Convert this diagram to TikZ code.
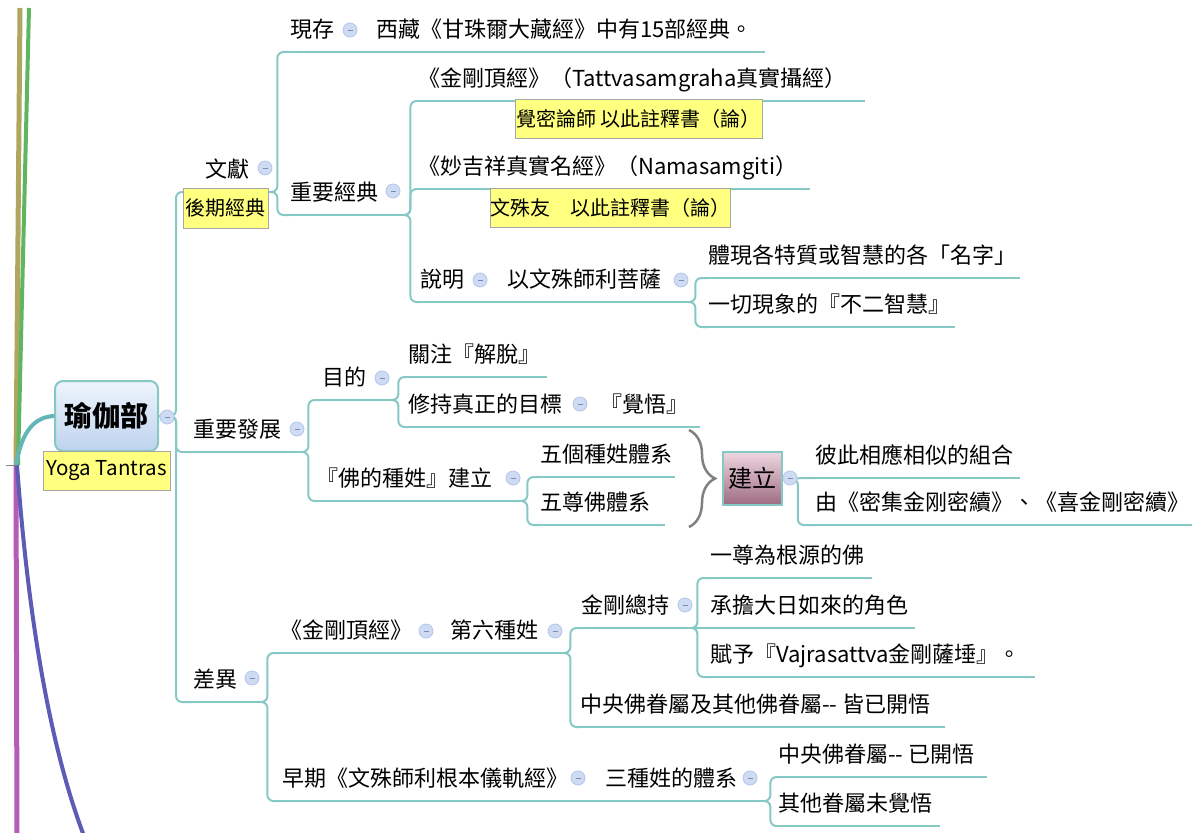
\documentclass[tikz,border=0pt]{standalone}
\usepackage{fontspec}
\setmainfont{Noto Sans CJK TC}
\usetikzlibrary{decorations.pathreplacing}
\definecolor{tealline}{RGB}{134,200,196}
\definecolor{rootTop}{RGB}{238,244,252}
\definecolor{rootBot}{RGB}{190,211,238}
\definecolor{buildTop}{RGB}{238,214,224}
\definecolor{buildBot}{RGB}{158,108,130}
\definecolor{noteYellow}{RGB}{255,255,128}
\definecolor{noteBorder}{RGB}{166,166,166}
\definecolor{cbFill}{RGB}{206,219,243}
\definecolor{cbDraw}{RGB}{176,198,236}
\definecolor{cbMinus}{RGB}{120,140,180}
\definecolor{tanL}{RGB}{176,166,96}
\definecolor{greenL}{RGB}{96,182,96}
\definecolor{magL}{RGB}{182,92,182}
\definecolor{purL}{RGB}{92,92,182}
\definecolor{rootLink}{RGB}{100,182,182}
\definecolor{braceGray}{RGB}{128,128,128}
\newcommand\mmbox[2]{\makebox[#1pt][l]{#2}}
\begin{document}
\begin{tikzpicture}[x=1pt,y=-1pt,
 topic/.style={anchor=south west, inner sep=0pt, text depth=14pt, font=\fontsize{22}{26}\selectfont},
 uline/.style={draw=tealline, line width=2pt},
 conn/.style={draw=tealline, line width=2pt, rounded corners=6pt},
 collapse/.style={circle, minimum size=14pt, inner sep=0pt, fill=cbFill, draw=cbDraw, line width=0.8pt,
   path picture={\draw[cbMinus,line width=0.9pt] ([xshift=-2.5pt]path picture bounding box.center) -- ([xshift=2.5pt]path picture bounding box.center);}},
 note/.style={draw=noteBorder, fill=noteYellow, line width=1pt, inner sep=0pt, font=\fontsize{20}{23}\selectfont},
]
\useasboundingbox (0,0) rectangle (1198,832);

% left branches of the outer map
\coordinate (hub) at (16,465);
\coordinate (tanTop) at (20,8);
\coordinate (greenTop) at (29,8);
\coordinate (magBot) at (17,840);
\coordinate (purBot) at (84,836);
\coordinate (tick) at (6,465);
\draw[tanL, line width=5pt] (tanTop) -- (hub);
\draw[greenL, line width=4pt] (greenTop) -- ([xshift=2pt]hub);
\draw[magL, line width=5pt] (hub) -- (magBot);
\draw[purL, line width=4pt] ([xshift=1pt]hub) .. controls (24,560) and (40,720) .. (purBot);
\draw[gray, line width=1pt] (tick) -- (hub);

% root
\node[draw=tealline, line width=2pt, rounded corners=8pt, top color=rootTop, bottom color=rootBot,
  minimum width=103pt, minimum height=70pt, inner sep=0pt, font=\fontsize{28}{32}\selectfont\bfseries] (root) at (106.5,416) {瑜伽部};
\draw[rootLink, line width=4pt] (hub) .. controls (22,430) and (35,417) .. (root.west);

% topics
\node[topic] (t1) at (205,192) {\mmbox{67}{文獻}};
\node[topic] (t2) at (193,452) {\mmbox{110}{重要發展}};
\node[topic] (t3) at (193,702) {\mmbox{69}{差異}};

\node[topic] (t11) at (290,52) {\mmbox{86}{現存}};
\node[topic] (t11a) at (376,52) {\mmbox{389}{西藏《甘珠爾大藏經》中有15部經典。}};
\node[topic] (t12) at (290,215) {\mmbox{115}{重要經典}};
\node[topic] (t121) at (418,101) {\mmbox{447}{《金剛頂經》（Tattvasamgraha真實攝經）}};
\node[topic] (t122) at (418,189) {\mmbox{392}{《妙吉祥真實名經》（Namasamgiti）}};
\node[topic] (t123) at (420,302) {\mmbox{87}{說明}};
\node[topic] (t123a) at (507,302) {\mmbox{183}{以文殊師利菩薩}};
\node[topic] (t1231) at (708,278) {\mmbox{312}{體現各特質或智慧的各「名字」}};
\node[topic] (t1232) at (708,327) {\mmbox{247}{一切現象的『不二智慧』}};

\node[topic] (t21) at (322,400) {\mmbox{71}{目的}};
\node[topic] (t211) at (408,377) {\mmbox{139}{關注『解脫』}};
\node[topic] (t212) at (408,427) {\mmbox{192}{修持真正的目標}};
\node[topic] (t212a) at (600,427) {\mmbox{100}{『覺悟』}};
\node[topic] (t22) at (316,501) {\mmbox{206}{『佛的種姓』建立}};
\node[topic] (t221) at (540,477) {\mmbox{135}{五個種姓體系}};
\node[topic] (t222) at (540,525) {\mmbox{125}{五尊佛體系}};
\node[draw=tealline, line width=1.5pt, top color=buildTop, bottom color=buildBot,
  minimum width=59pt, minimum height=53pt, inner sep=0pt, font=\fontsize{24}{28}\selectfont] (build) at (752.5,478.5) {建立};
\node[topic] (t231) at (815,478) {\mmbox{205}{彼此相應相似的組合}};
\node[topic] (t232) at (815,525) {\mmbox{377}{由《密集金刚密續》、《喜金剛密續》}};

\node[topic] (t31) at (280,653) {\mmbox{170}{《金剛頂經》}};
\node[topic] (t31a) at (450,653) {\mmbox{115}{第六種姓}};
\node[topic] (t311) at (581,628) {\mmbox{111}{金剛總持}};
\node[topic] (t311a) at (710,628) {\mmbox{205}{承擔大日如來的角色}};
\node[topic] (t3111) at (710,578) {\mmbox{162}{一尊為根源的佛}};
\node[topic] (t3112) at (710,677) {\mmbox{325}{賦予『Vajrasattva金剛薩埵』。}};
\node[topic] (t312) at (580,727) {\mmbox{365}{中央佛眷屬及其他佛眷屬-{}- 皆已開悟}};
\node[topic] (t32) at (282,801) {\mmbox{323}{早期《文殊師利根本儀軌經》}};
\node[topic] (t32a) at (605,801) {\mmbox{160}{三種姓的體系}};
\node[topic] (t321) at (778,777) {\mmbox{209}{中央佛眷屬-{}- 已開悟}};
\node[topic] (t322) at (778,826) {\mmbox{162}{其他眷屬未覺悟}};

% underlines
\foreach \n in {t1,t2,t3,t11,t11a,t12,t121,t122,t123,t123a,t1231,t1232,t21,t211,t212,t212a,t22,t221,t222,t231,t232,t31,t31a,t311,t311a,t3111,t3112,t312,t32,t32a,t321,t322}
  \draw[uline] (\n.south west) -- (\n.south east);

% connectors
\foreach \c in {t1,t2,t3}
  \draw[conn] (root.east) -- ++(17,0) |- (\c.south west);
\foreach \c in {t11,t12}
  \draw[conn] (t1.south east) -- ++(5,0) |- (\c.south west);
\draw[conn] (t11.south east) -- (t11a.south west);
\foreach \c in {t121,t122,t123}
  \draw[conn] (t12.south east) -- ++(5,0) |- (\c.south west);
\draw[conn] (t123.south east) -- (t123a.south west);
\foreach \c in {t1231,t1232}
  \draw[conn] (t123a.south east) -- ++(5,0) |- (\c.south west);
\foreach \c in {t21,t22}
  \draw[conn] (t2.south east) -- ++(5,0) |- (\c.south west);
\foreach \c in {t211,t212}
  \draw[conn] (t21.south east) -- ++(5,0) |- (\c.south west);
\draw[conn] (t212.south east) -- (t212a.south west);
\foreach \c in {t221,t222}
  \draw[conn] (t22.south east) -- ++(5,0) |- (\c.south west);
\draw[conn] (build.east) -- (t231.south west);
\draw[conn] (build.east) -- ++(15,0) |- (t232.south west);
\foreach \c in {t31,t32}
  \draw[conn] (t3.south east) -- ++(5,0) |- (\c.south west);
\draw[conn] (t31.south east) -- (t31a.south west);
\foreach \c in {t311,t312}
  \draw[conn] (t31a.south east) -- ++(5,0) |- (\c.south west);
\draw[conn] (t311.south east) -- (t311a.south west);
\foreach \c in {t3111,t3112}
  \draw[conn] (t311.south east) -- ++(5,0) |- (\c.south west);
\draw[conn] (t32.south east) -- (t32a.south west);
\foreach \c in {t321,t322}
  \draw[conn] (t32a.south east) -- ++(5,0) |- (\c.south west);

% brace
\coordinate (braceTop) at (689,430);
\coordinate (braceBot) at (689,527);
\draw[braceGray, line width=2.5pt, decorate, decoration={brace, amplitude=26pt}] (braceTop) -- (braceBot);

% notes
\node[note, minimum width=127pt, minimum height=39pt, font=\fontsize{20.5}{23}\selectfont] (yoga) at (106.5,470.5) {Yoga Tantras};
\node[note, minimum width=85pt, minimum height=40pt] (n1) at (225.5,208) {後期經典};
\node[note, minimum width=247pt, minimum height=38pt] (n2) at (638.5,119) {覺密論師 以此註釋書（論）};
\node[note, minimum width=233pt, minimum height=39pt] (n3) at (610.5,207.5) {文殊友　以此註釋書（論）};

% collapse markers
\node[collapse] (c0) at (167,417) {};
\node[collapse] (c1) at (265,168) {};
\node[collapse] (c11) at (350,30) {};
\node[collapse] (c12) at (393,191) {};
\node[collapse] (c123) at (480,280) {};
\node[collapse] (c123a) at (681,280) {};
\node[collapse] (c2) at (297,429) {};
\node[collapse] (c21) at (382,378) {};
\node[collapse] (c212) at (580,404) {};
\node[collapse] (c22) at (513,478) {};
\node[collapse] (cb) at (790,478) {};
\node[collapse] (c3) at (252,678) {};
\node[collapse] (c31) at (426,631) {};
\node[collapse] (c31a) at (555,631) {};
\node[collapse] (c311) at (685,605) {};
\node[collapse] (c32) at (578,778) {};
\node[collapse] (c32a) at (750,778) {};
\end{tikzpicture}
\end{document}
